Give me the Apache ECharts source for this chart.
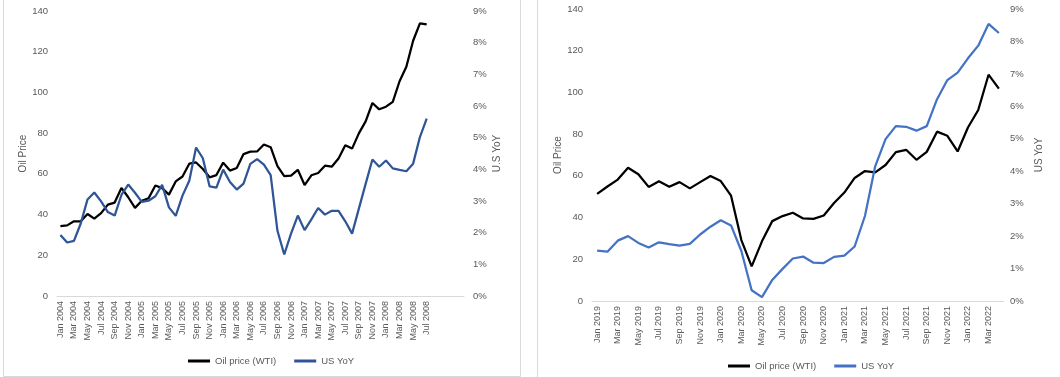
<!DOCTYPE html>
<html><head><meta charset="utf-8">
<script src="https://cdn.jsdelivr.net/npm/echarts@6/dist/echarts.min.js"></script>
<style>html,body{margin:0;padding:0;background:#fff}#c{width:1060px;height:377px}</style>
</head><body><div id="c"></div><script>
// ---- Data ----
var months2004 = ['Jan 2004','Feb 2004','Mar 2004','Apr 2004','May 2004','Jun 2004','Jul 2004','Aug 2004','Sep 2004','Oct 2004','Nov 2004','Dec 2004',
 'Jan 2005','Feb 2005','Mar 2005','Apr 2005','May 2005','Jun 2005','Jul 2005','Aug 2005','Sep 2005','Oct 2005','Nov 2005','Dec 2005',
 'Jan 2006','Feb 2006','Mar 2006','Apr 2006','May 2006','Jun 2006','Jul 2006','Aug 2006','Sep 2006','Oct 2006','Nov 2006','Dec 2006',
 'Jan 2007','Feb 2007','Mar 2007','Apr 2007','May 2007','Jun 2007','Jul 2007','Aug 2007','Sep 2007','Oct 2007','Nov 2007','Dec 2007',
 'Jan 2008','Feb 2008','Mar 2008','Apr 2008','May 2008','Jun 2008','Jul 2008','','','','',''];
var oil2004 = [34.3,34.7,36.7,36.7,40.3,38.0,40.7,44.9,45.9,53.1,48.5,43.3,
 46.8,48.0,54.3,53.0,49.8,56.3,58.7,65.0,65.6,62.4,58.3,59.4,
 65.5,61.6,62.9,69.7,70.9,71.0,74.4,73.1,63.8,58.9,59.1,62.0,
 54.5,59.3,60.4,64.0,63.5,67.5,74.1,72.4,79.9,85.8,94.8,91.7,
 93.0,95.4,105.5,112.6,125.4,133.9,133.4];
var cpi2004 = [1.93,1.69,1.74,2.29,3.05,3.27,2.99,2.65,2.54,3.19,3.52,3.26,
 2.97,3.01,3.15,3.51,2.80,2.53,3.17,3.64,4.69,4.35,3.46,3.42,
 3.99,3.60,3.36,3.55,4.17,4.32,4.15,3.82,2.06,1.31,1.97,2.54,
 2.08,2.42,2.78,2.57,2.69,2.69,2.36,1.97,2.76,3.54,4.31,4.08,
 4.28,4.03,3.98,3.94,4.18,5.02,5.60];

var months2019 = ['Jan 2019','Feb 2019','Mar 2019','Apr 2019','May 2019','Jun 2019','Jul 2019','Aug 2019','Sep 2019','Oct 2019','Nov 2019','Dec 2019',
 'Jan 2020','Feb 2020','Mar 2020','Apr 2020','May 2020','Jun 2020','Jul 2020','Aug 2020','Sep 2020','Oct 2020','Nov 2020','Dec 2020',
 'Jan 2021','Feb 2021','Mar 2021','Apr 2021','May 2021','Jun 2021','Jul 2021','Aug 2021','Sep 2021','Oct 2021','Nov 2021','Dec 2021',
 'Jan 2022','Feb 2022','Mar 2022','Apr 2022'];
var oil2019 = [51.4,54.9,58.2,63.9,60.8,54.7,57.4,54.8,57.0,54.0,57.0,59.9,
 57.5,50.5,29.2,16.6,28.6,38.3,40.7,42.3,39.6,39.4,41.0,47.0,
 52.0,59.0,62.3,61.7,65.2,71.4,72.5,67.7,71.5,81.2,79.2,71.7,
 83.2,91.6,108.5,101.8];
var cpi2019 = [1.55,1.52,1.86,2.00,1.79,1.65,1.81,1.75,1.71,1.76,2.05,2.29,
 2.49,2.33,1.54,0.33,0.12,0.65,0.99,1.31,1.37,1.18,1.17,1.36,
 1.40,1.68,2.62,4.16,4.99,5.39,5.37,5.25,5.39,6.22,6.81,7.04,
 7.48,7.87,8.54,8.26];

var priceTicks = {min:0, max:140, interval:20};
var pctTicks = {min:0, max:9, interval:1};

// ---- Style ----
var FONT = '"Liberation Sans", Arial, sans-serif';
var TXT = '#595959';
var BLUE_L = '#2F5597';
var BLUE_R = '#4472C4';

function xAxis(grid, cats){
  return {type:'category', gridIndex:grid, data:cats, boundaryGap:true,
    axisLine:{lineStyle:{color:'#d9d9d9', width:1}}, axisTick:{show:false},
    axisLabel:{rotate:90, interval:1, fontSize:9, color:TXT, fontFamily:FONT, margin:5},
    splitLine:{show:false}};
}
function yPrice(grid, gap){
  return {type:'value', gridIndex:grid, position:'left', min:priceTicks.min, max:priceTicks.max, interval:priceTicks.interval,
    name:'Oil Price', nameLocation:'middle', nameGap:gap, nameRotate:90,
    nameTextStyle:{fontSize:10, color:TXT, fontFamily:FONT},
    axisLine:{show:false}, axisTick:{show:false}, splitLine:{show:false},
    axisLabel:{fontSize:9.5, color:TXT, fontFamily:FONT, margin:9}};
}
function yPct(grid, name, gap, margin){
  return {type:'value', gridIndex:grid, position:'right', min:pctTicks.min, max:pctTicks.max, interval:pctTicks.interval,
    name:name, nameLocation:'middle', nameGap:gap, nameRotate:90,
    nameTextStyle:{fontSize:10, color:TXT, fontFamily:FONT},
    axisLine:{show:false}, axisTick:{show:false}, splitLine:{show:false},
    axisLabel:{fontSize:9.5, color:TXT, fontFamily:FONT, margin:margin, formatter:'{value}%'}};
}
function line(name, data, xi, yi, color){
  return {type:'line', name:name, data:data, xAxisIndex:xi, yAxisIndex:yi, showSymbol:false, symbol:'none',
    lineStyle:{color:color, width:2.25}, itemStyle:{color:color}};
}
function legend(left, top, blue){
  return {left:left, top:top, icon:'rect', itemWidth:22, itemHeight:3, itemGap:18,
    textStyle:{fontSize:9.5, color:TXT, fontFamily:FONT},
    data:[{name:'Oil price (WTI)', itemStyle:{color:'#000'}}, {name:'US YoY', itemStyle:{color:blue}}]};
}

var chart = echarts.init(document.getElementById('c'), null, {renderer:'canvas'});
chart.setOption({
  animation:false,
  backgroundColor:'#fff',
  grid:[{left:57, top:11, width:407, height:285}, {left:592, top:9, width:412, height:292}],
  xAxis:[xAxis(0, months2004), xAxis(1, months2019)],
  yAxis:[yPrice(0, 28), yPct(0, 'U.S YoY', 28, 9), yPrice(1, 28), yPct(1, 'US YoY', 30, 6)],
  legend:[legend(183, 351, BLUE_L), legend(723, 356, BLUE_R)],
  series:[
    line('Oil price (WTI)', oil2004, 0, 0, '#000'),
    line('US YoY', cpi2004, 0, 1, BLUE_L),
    line('Oil price (WTI)', oil2019, 1, 2, '#000'),
    line('US YoY', cpi2019, 1, 3, BLUE_R)
  ],
  graphic:[
    {type:'polyline', silent:true, shape:{points:[[3.5,0],[3.5,376.5],[520.5,376.5],[520.5,0]]}, style:{stroke:'#d9d9d9', fill:null, lineWidth:1}},
    {type:'line', silent:true, shape:{x1:537.5, y1:0, x2:537.5, y2:377}, style:{stroke:'#d9d9d9', lineWidth:1}}
  ]
});
</script></body></html>
